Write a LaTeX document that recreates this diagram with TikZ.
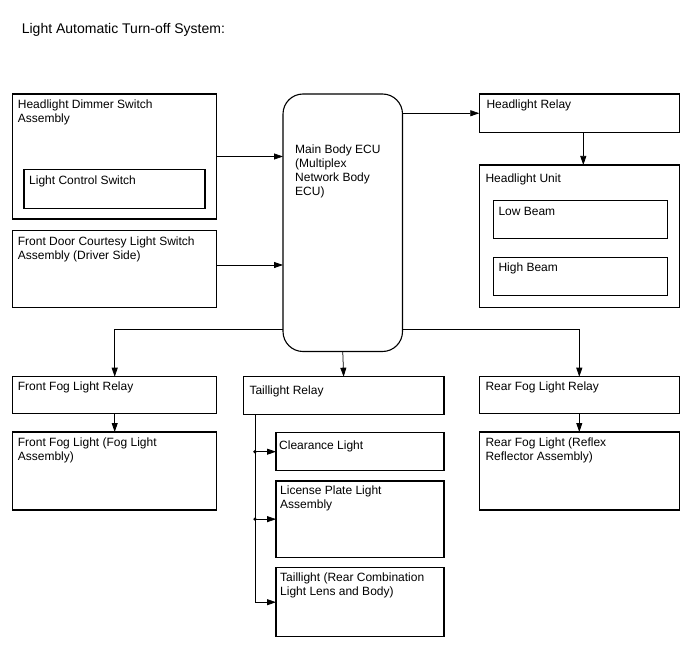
\documentclass[tikz,border=0pt]{standalone}
\usepackage{fontspec}
\setmainfont{Liberation Sans}
\usetikzlibrary{arrows.meta,positioning}

\begin{document}
\begin{tikzpicture}[x=1pt,y=-1pt, font=\fontsize{12}{14}\selectfont,
    blk/.style={draw, line width=1.1pt, anchor=north west, inner sep=0pt, outer sep=0pt},
    lbl/.style={anchor=north west, inner sep=0pt, align=left},
    arr/.style={line width=0.75pt, -{Triangle[length=9pt,width=6pt]}}]
\useasboundingbox (0,0) rectangle (688,658);
\node[anchor=base west, font=\fontsize{14}{16}\selectfont] (title) at (18.3,34) {Light Automatic Turn-off System:};
% inputs
\node[blk, minimum width=204pt, minimum height=125pt] (hdim) at (12.7,94) {};
\node[lbl] (hdimt) at ([shift={(5,6)}]hdim.north west) {Headlight Dimmer Switch\\Assembly};
\node[blk, minimum width=181pt, minimum height=39pt] (lcs) at (24,169.3) {};
\node[lbl] (lcst) at ([shift={(5,6)}]lcs.north west) {Light Control Switch};
\node[blk, minimum width=204pt, minimum height=76.6pt] (door) at (12.7,230.7) {};
\node[lbl] (doort) at ([shift={(5,6)}]door.north west) {Front Door Courtesy Light Switch\\Assembly (Driver Side)};
% ecu
\node[blk, rounded corners=20pt, minimum width=119.5pt, minimum height=257.5pt] (ecu) at (283,94) {};
\node[lbl] (ecut) at (295,145) {Main Body ECU\\(Multiplex\\Network Body\\ECU)};
% headlight side
\node[blk, minimum width=200pt, minimum height=38.5pt] (hrelay) at (479.3,94) {};
\node[lbl] (hrelayt) at ([shift={(7,6)}]hrelay.north west) {Headlight Relay};
\node[blk, minimum width=200pt, minimum height=142.3pt] (hunit) at (479.3,165) {};
\node[lbl] (hunitt) at ([shift={(6,9)}]hunit.north west) {Headlight Unit};
\node[blk, minimum width=174pt, minimum height=37.6pt] (lowb) at (493.3,200.7) {};
\node[lbl] (lowbt) at ([shift={(5,6)}]lowb.north west) {Low Beam};
\node[blk, minimum width=174pt, minimum height=38.4pt] (highb) at (493.3,257.3) {};
\node[lbl] (highbt) at ([shift={(5,5)}]highb.north west) {High Beam};
% outputs
\node[blk, minimum width=204pt, minimum height=37pt] (ffrelay) at (12.7,376.7) {};
\node[lbl] (ffrelayt) at ([shift={(5,5)}]ffrelay.north west) {Front Fog Light Relay};
\node[blk, minimum width=204pt, minimum height=78pt] (fflight) at (12.7,432) {};
\node[lbl] (fflightt) at ([shift={(5,6)}]fflight.north west) {Front Fog Light (Fog Light\\Assembly)};
\node[blk, minimum width=200.7pt, minimum height=37.6pt] (trelay) at (243.3,376.7) {};
\node[lbl] (trelayt) at ([shift={(6,9)}]trelay.north west) {Taillight Relay};
\node[blk, minimum width=200pt, minimum height=37pt] (rfrelay) at (479.3,376.7) {};
\node[lbl] (rfrelayt) at ([shift={(6,5)}]rfrelay.north west) {Rear Fog Light Relay};
\node[blk, minimum width=200pt, minimum height=78pt] (rflight) at (479.3,432) {};
\node[lbl] (rflightt) at ([shift={(6,6)}]rflight.north west) {Rear Fog Light (Reflex\\Reflector Assembly)};
\node[blk, minimum width=168pt, minimum height=38pt] (clear) at (276,432.7) {};
\node[lbl] (cleart) at ([shift={(3,8)}]clear.north west) {Clearance Light};
\node[blk, minimum width=168pt, minimum height=76.3pt] (plate) at (276,481) {};
\node[lbl] (platet) at ([shift={(4,5)}]plate.north west) {License Plate Light\\Assembly};
\node[blk, minimum width=168pt, minimum height=69pt] (tail) at (276,567.7) {};
\node[lbl] (tailt) at ([shift={(4,5)}]tail.north west) {Taillight (Rear Combination\\Light Lens and Body)};
% connectors
\draw[arr] (hdim.east) -- (hdim.east -| ecu.west);
\draw[arr] ([yshift=4pt]door.east) -- ([yshift=4pt]door.east -| ecu.west);
\draw[arr] (hrelay.west -| ecu.east) -- (hrelay.west);
\draw[arr] ([xshift=4pt]hrelay.south) -- ([xshift=4pt]hrelay.south |- hunit.north);
\coordinate (split) at (343,329.3);
\draw[arr] (split -| ecu.west) -| (ffrelay.north);
\draw[arr] (split -| ecu.east) -| (rfrelay.north);
\draw[arr] (ecu.south) -- (trelay.north);
\draw[arr] (ffrelay.south) -- (fflight.north);
\draw[arr] (rfrelay.south) -- (rflight.north);
\coordinate (bus) at (255,0);
\draw[arr] (bus |- trelay.south) |- (tail.west);
\draw[arr] (bus |- clear.west) -- (clear.west);
\draw[arr] (bus |- plate.west) -- (plate.west);
\fill (bus |- clear.west) circle (1.8pt);
\fill (bus |- plate.west) circle (1.8pt);
\end{tikzpicture}
\end{document}
